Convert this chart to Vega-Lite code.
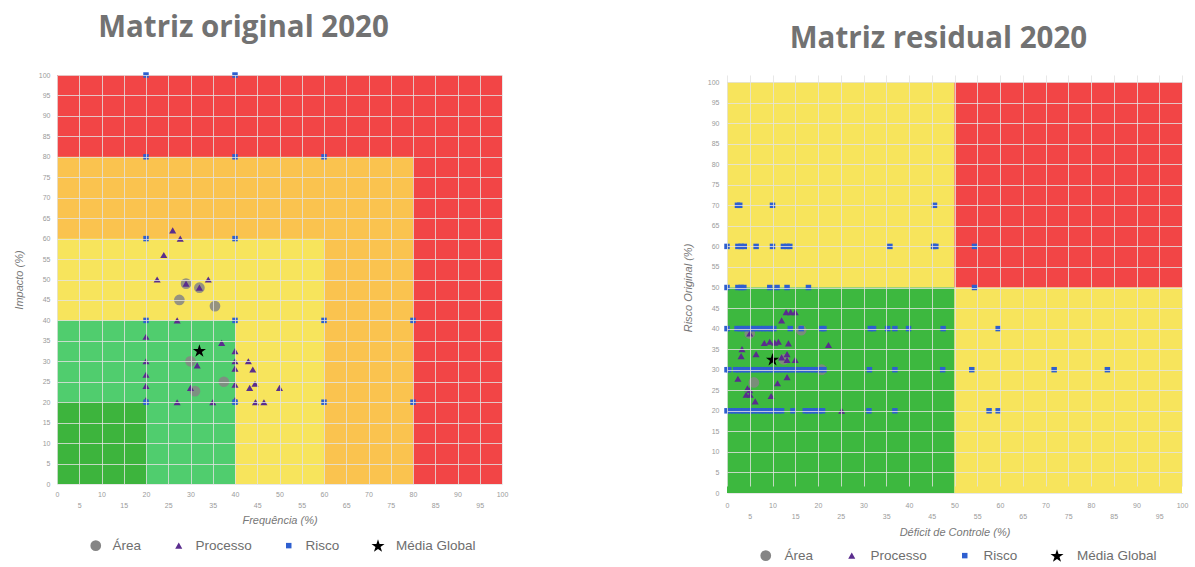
{
  "$schema": "https://vega.github.io/schema/vega-lite/v6.json",
  "padding": {"left": 13, "top": 12, "right": 5, "bottom": 0},
  "background": "#ffffff",
  "config": {
    "view": {"stroke": null},
    "axis": {
      "labelFont": "Liberation Sans", "labelFontSize": 7, "labelColor": "#9a9a9a",
      "titleFont": "Liberation Sans", "titleFontSize": 11, "titleFontStyle": "italic",
      "titleFontWeight": "normal", "titleColor": "#777777",
      "ticks": false, "domain": false, "gridColor": "#e2e2e2", "gridOpacity": 0.8,
      "gridWidth": 1, "labelOverlap": false, "labelFlush": false
    },
    "legend": {"labelFont": "Liberation Sans", "labelFontSize": 13.5, "labelColor": "#6e6e6e"}
  },
  "datasets": {
    "zonasL": [
      {"zona": "Crítico", "x": 0, "x2": 100, "y": 0, "y2": 100},
      {"zona": "Alto", "x": 0, "x2": 80, "y": 0, "y2": 80},
      {"zona": "Médio", "x": 0, "x2": 60, "y": 0, "y2": 60},
      {"zona": "Baixo", "x": 0, "x2": 40, "y": 0, "y2": 40},
      {"zona": "Muito baixo", "x": 0, "x2": 20, "y": 0, "y2": 20}
    ],
    "zonasR": [
      {"zona": "Médio A", "x": 0, "x2": 50, "y": 50, "y2": 100},
      {"zona": "Alto", "x": 50, "x2": 100, "y": 50, "y2": 100},
      {"zona": "Baixo", "x": 0, "x2": 50, "y": 0, "y2": 50},
      {"zona": "Médio B", "x": 50, "x2": 100, "y": 0, "y2": 50}
    ],
    "pontosL": [
      {"tipo": "Área", "x": 29, "y": 49}, {"tipo": "Área", "x": 32, "y": 48}, {"tipo": "Área", "x": 27.5, "y": 45},
      {"tipo": "Área", "x": 35.5, "y": 43.5}, {"tipo": "Área", "x": 30, "y": 30}, {"tipo": "Área", "x": 37.5, "y": 25},
      {"tipo": "Área", "x": 31, "y": 22.7},
      {"tipo": "Processo", "x": 26, "y": 62}, {"tipo": "Processo", "x": 27.7, "y": 60}, {"tipo": "Processo", "x": 24, "y": 56},
      {"tipo": "Processo", "x": 22.5, "y": 50}, {"tipo": "Processo", "x": 34, "y": 50}, {"tipo": "Processo", "x": 29, "y": 49},
      {"tipo": "Processo", "x": 32, "y": 48}, {"tipo": "Processo", "x": 27, "y": 40}, {"tipo": "Processo", "x": 20, "y": 36},
      {"tipo": "Processo", "x": 37, "y": 34.5}, {"tipo": "Processo", "x": 40, "y": 32.5}, {"tipo": "Processo", "x": 20, "y": 30},
      {"tipo": "Processo", "x": 40, "y": 30}, {"tipo": "Processo", "x": 43, "y": 30}, {"tipo": "Processo", "x": 31.5, "y": 29},
      {"tipo": "Processo", "x": 40, "y": 28.2}, {"tipo": "Processo", "x": 44, "y": 28}, {"tipo": "Processo", "x": 20, "y": 26.7},
      {"tipo": "Processo", "x": 20, "y": 24}, {"tipo": "Processo", "x": 40, "y": 24.3}, {"tipo": "Processo", "x": 44.5, "y": 24.5},
      {"tipo": "Processo", "x": 43.3, "y": 23.5}, {"tipo": "Processo", "x": 50, "y": 23.5}, {"tipo": "Processo", "x": 30, "y": 23.5},
      {"tipo": "Processo", "x": 27, "y": 20}, {"tipo": "Processo", "x": 35, "y": 20}, {"tipo": "Processo", "x": 44.6, "y": 20},
      {"tipo": "Processo", "x": 46.5, "y": 20}, {"tipo": "Processo", "x": 20, "y": 20.5}, {"tipo": "Processo", "x": 40, "y": 20.5},
      {"tipo": "Risco", "x": 20, "y": 100}, {"tipo": "Risco", "x": 40, "y": 100}, {"tipo": "Risco", "x": 20, "y": 80},
      {"tipo": "Risco", "x": 40, "y": 80}, {"tipo": "Risco", "x": 60, "y": 80}, {"tipo": "Risco", "x": 20, "y": 60},
      {"tipo": "Risco", "x": 40, "y": 60}, {"tipo": "Risco", "x": 20, "y": 40}, {"tipo": "Risco", "x": 40, "y": 40},
      {"tipo": "Risco", "x": 60, "y": 40}, {"tipo": "Risco", "x": 80, "y": 40}, {"tipo": "Risco", "x": 20, "y": 20},
      {"tipo": "Risco", "x": 40, "y": 20}, {"tipo": "Risco", "x": 60, "y": 20}, {"tipo": "Risco", "x": 80, "y": 20},
      {"tipo": "Média Global", "x": 32, "y": 32.5}
    ],
    "pontosR": [
      {"tipo": "Área", "x": 5, "y": 38.8}, {"tipo": "Área", "x": 16.3, "y": 39.6}, {"tipo": "Área", "x": 5.9, "y": 26.9},
      {"tipo": "Área", "x": 20.8, "y": 30}, {"tipo": "Área", "x": 12.5, "y": 32.5},
      {"tipo": "Processo", "x": 13, "y": 44}, {"tipo": "Processo", "x": 14, "y": 44}, {"tipo": "Processo", "x": 15, "y": 44},
      {"tipo": "Processo", "x": 12, "y": 42}, {"tipo": "Processo", "x": 5, "y": 38.8}, {"tipo": "Processo", "x": 8.2, "y": 36.5},
      {"tipo": "Processo", "x": 9.4, "y": 36.8}, {"tipo": "Processo", "x": 10.5, "y": 36.6}, {"tipo": "Processo", "x": 11.3, "y": 36.8},
      {"tipo": "Processo", "x": 13.5, "y": 36.4}, {"tipo": "Processo", "x": 3.3, "y": 35}, {"tipo": "Processo", "x": 22.3, "y": 36},
      {"tipo": "Processo", "x": 3.1, "y": 33.3}, {"tipo": "Processo", "x": 6.4, "y": 33.8}, {"tipo": "Processo", "x": 13.2, "y": 33.8},
      {"tipo": "Processo", "x": 15, "y": 32.4}, {"tipo": "Processo", "x": 13.2, "y": 32.4}, {"tipo": "Processo", "x": 12, "y": 33},
      {"tipo": "Processo", "x": 2.4, "y": 27.8}, {"tipo": "Processo", "x": 13.2, "y": 28.2}, {"tipo": "Processo", "x": 11.1, "y": 26.7},
      {"tipo": "Processo", "x": 4.5, "y": 25.5}, {"tipo": "Processo", "x": 4.2, "y": 23.9}, {"tipo": "Processo", "x": 5.1, "y": 23.9},
      {"tipo": "Processo", "x": 6.2, "y": 22.3}, {"tipo": "Processo", "x": 9.7, "y": 23.6}, {"tipo": "Processo", "x": 25.2, "y": 20},
      {"tipo": "Processo", "x": 5, "y": 25},
      {"tipo": "Risco", "x": 2.3, "y": 70}, {"tipo": "Risco", "x": 2.8, "y": 70}, {"tipo": "Risco", "x": 10, "y": 70}, {"tipo": "Risco", "x": 45.6, "y": 70},
      {"tipo": "Risco", "x": 0, "y": 60}, {"tipo": "Risco", "x": 2.4, "y": 60}, {"tipo": "Risco", "x": 3.1, "y": 60}, {"tipo": "Risco", "x": 3.8, "y": 60},
      {"tipo": "Risco", "x": 6.4, "y": 60}, {"tipo": "Risco", "x": 10, "y": 60}, {"tipo": "Risco", "x": 12.4, "y": 60}, {"tipo": "Risco", "x": 13.2, "y": 60},
      {"tipo": "Risco", "x": 13.8, "y": 60}, {"tipo": "Risco", "x": 35.8, "y": 60}, {"tipo": "Risco", "x": 45.4, "y": 60}, {"tipo": "Risco", "x": 45.9, "y": 60},
      {"tipo": "Risco", "x": 54.4, "y": 60},
      {"tipo": "Risco", "x": 0, "y": 50}, {"tipo": "Risco", "x": 2.4, "y": 50}, {"tipo": "Risco", "x": 3.1, "y": 50}, {"tipo": "Risco", "x": 3.7, "y": 50},
      {"tipo": "Risco", "x": 9.4, "y": 50}, {"tipo": "Risco", "x": 11, "y": 50}, {"tipo": "Risco", "x": 13.2, "y": 50}, {"tipo": "Risco", "x": 17.9, "y": 50},
      {"tipo": "Risco", "x": 54.4, "y": 50},
      {"tipo": "Risco", "x": 0, "y": 40}, {"tipo": "Risco", "x": 2.2, "y": 40}, {"tipo": "Risco", "x": 2.9, "y": 40}, {"tipo": "Risco", "x": 3.6, "y": 40},
      {"tipo": "Risco", "x": 4.3, "y": 40}, {"tipo": "Risco", "x": 5.1, "y": 40}, {"tipo": "Risco", "x": 5.8, "y": 40}, {"tipo": "Risco", "x": 6.6, "y": 40},
      {"tipo": "Risco", "x": 7.3, "y": 40}, {"tipo": "Risco", "x": 8.1, "y": 40}, {"tipo": "Risco", "x": 8.8, "y": 40}, {"tipo": "Risco", "x": 9.6, "y": 40},
      {"tipo": "Risco", "x": 10.3, "y": 40}, {"tipo": "Risco", "x": 13.9, "y": 40}, {"tipo": "Risco", "x": 16.3, "y": 40}, {"tipo": "Risco", "x": 20.8, "y": 40},
      {"tipo": "Risco", "x": 21.3, "y": 40}, {"tipo": "Risco", "x": 31.5, "y": 40}, {"tipo": "Risco", "x": 32.2, "y": 40}, {"tipo": "Risco", "x": 35.3, "y": 40},
      {"tipo": "Risco", "x": 36.9, "y": 40}, {"tipo": "Risco", "x": 39.9, "y": 40}, {"tipo": "Risco", "x": 47.5, "y": 40}, {"tipo": "Risco", "x": 59.6, "y": 40},
      {"tipo": "Risco", "x": 0, "y": 30}, {"tipo": "Risco", "x": 0.4, "y": 30}, {"tipo": "Risco", "x": 1.9, "y": 30}, {"tipo": "Risco", "x": 2.6, "y": 30},
      {"tipo": "Risco", "x": 3.4, "y": 30}, {"tipo": "Risco", "x": 4.1, "y": 30}, {"tipo": "Risco", "x": 4.9, "y": 30}, {"tipo": "Risco", "x": 5.6, "y": 30},
      {"tipo": "Risco", "x": 6.3, "y": 30}, {"tipo": "Risco", "x": 7.1, "y": 30}, {"tipo": "Risco", "x": 7.8, "y": 30}, {"tipo": "Risco", "x": 8.6, "y": 30},
      {"tipo": "Risco", "x": 9.3, "y": 30}, {"tipo": "Risco", "x": 10.1, "y": 30}, {"tipo": "Risco", "x": 10.8, "y": 30}, {"tipo": "Risco", "x": 11.6, "y": 30},
      {"tipo": "Risco", "x": 12.3, "y": 30}, {"tipo": "Risco", "x": 13.1, "y": 30}, {"tipo": "Risco", "x": 13.8, "y": 30}, {"tipo": "Risco", "x": 14.6, "y": 30},
      {"tipo": "Risco", "x": 15.3, "y": 30}, {"tipo": "Risco", "x": 16.1, "y": 30}, {"tipo": "Risco", "x": 16.8, "y": 30}, {"tipo": "Risco", "x": 17.6, "y": 30},
      {"tipo": "Risco", "x": 18.3, "y": 30}, {"tipo": "Risco", "x": 19.1, "y": 30}, {"tipo": "Risco", "x": 19.8, "y": 30}, {"tipo": "Risco", "x": 20.6, "y": 30},
      {"tipo": "Risco", "x": 21.3, "y": 30}, {"tipo": "Risco", "x": 31.3, "y": 30}, {"tipo": "Risco", "x": 36.9, "y": 30}, {"tipo": "Risco", "x": 47.4, "y": 30},
      {"tipo": "Risco", "x": 53.8, "y": 30}, {"tipo": "Risco", "x": 71.9, "y": 30}, {"tipo": "Risco", "x": 83.6, "y": 30},
      {"tipo": "Risco", "x": 0, "y": 20}, {"tipo": "Risco", "x": 0.7, "y": 20}, {"tipo": "Risco", "x": 1.5, "y": 20}, {"tipo": "Risco", "x": 2.2, "y": 20},
      {"tipo": "Risco", "x": 3, "y": 20}, {"tipo": "Risco", "x": 3.7, "y": 20}, {"tipo": "Risco", "x": 4.5, "y": 20}, {"tipo": "Risco", "x": 5.2, "y": 20},
      {"tipo": "Risco", "x": 6, "y": 20}, {"tipo": "Risco", "x": 6.7, "y": 20}, {"tipo": "Risco", "x": 7.5, "y": 20}, {"tipo": "Risco", "x": 8.2, "y": 20},
      {"tipo": "Risco", "x": 9, "y": 20}, {"tipo": "Risco", "x": 9.7, "y": 20}, {"tipo": "Risco", "x": 10.5, "y": 20}, {"tipo": "Risco", "x": 11.2, "y": 20},
      {"tipo": "Risco", "x": 12, "y": 20}, {"tipo": "Risco", "x": 14.5, "y": 20}, {"tipo": "Risco", "x": 17.2, "y": 20}, {"tipo": "Risco", "x": 17.9, "y": 20},
      {"tipo": "Risco", "x": 18.7, "y": 20}, {"tipo": "Risco", "x": 19.5, "y": 20}, {"tipo": "Risco", "x": 20.3, "y": 20}, {"tipo": "Risco", "x": 21, "y": 20},
      {"tipo": "Risco", "x": 31.2, "y": 20}, {"tipo": "Risco", "x": 36.9, "y": 20}, {"tipo": "Risco", "x": 57.6, "y": 20}, {"tipo": "Risco", "x": 59.6, "y": 20},
      {"tipo": "Média Global", "x": 10, "y": 32.4}
    ]
  },
  "spacing": 174,
  "resolve": {
    "scale": {"fill": "independent", "color": "independent", "shape": "independent", "size": "independent"},
    "legend": {"color": "independent", "shape": "independent", "size": "independent"}
  },
  "hconcat": [
    {
      "width": 445,
      "height": 409,
      "title": {"text": "Matriz original 2020", "font": "Open Sans", "fontSize": 29.5, "fontWeight": "bold", "color": "#727272", "anchor": "middle", "baseline": "alphabetic", "offset": 5, "dx": -36},
      "encoding": {
        "x": {"field": "x", "type": "quantitative", "scale": {"domain": [0, 100], "nice": false},
              "axis": {"title": "Frequência (%)", "values": [0,5,10,15,20,25,30,35,40,45,50,55,60,65,70,75,80,85,90,95,100], "grid": true, "zindex": 1,
                       "labelExpr": "datum.value % 10 == 0 ? datum.label : ['', datum.label]", "labelLineHeight": 11, "labelPadding": 6, "titlePadding": 6}},
        "y": {"field": "y", "type": "quantitative", "scale": {"domain": [0, 100], "nice": false},
              "axis": {"title": "Impacto (%)", "values": [0,5,10,15,20,25,30,35,40,45,50,55,60,65,70,75,80,85,90,95,100], "grid": true, "zindex": 1, "labelPadding": 7, "titlePadding": 14}}
      },
      "layer": [
        {
          "data": {"name": "zonasL"},
          "mark": {"type": "rect"},
          "encoding": {
            "x2": {"field": "x2"},
            "y2": {"field": "y2"},
            "fill": {"field": "zona", "type": "nominal", "legend": null,
                     "scale": {"domain": ["Crítico", "Alto", "Médio", "Baixo", "Muito baixo"], "range": ["#f24546", "#fac34f", "#f7e45c", "#50cd6e", "#3db43d"]}}
          }
        },
        {
          "data": {"name": "pontosL"},
          "mark": {"type": "point", "filled": true},
          "encoding": {
            "color": {"field": "tipo", "type": "nominal",
                      "scale": {"domain": ["Área", "Processo", "Risco", "Média Global"], "range": ["#858585", "#5a2d8e", "#2e5fd0", "#000000"]},
                      "legend": {"title": null, "orient": "none", "direction": "horizontal", "legendX": 32, "legendY": 463, "columnPadding": 30, "labelOffset": 10}},
            "shape": {"field": "tipo", "type": "nominal",
                      "scale": {"domain": ["Área", "Processo", "Risco", "Média Global"], "range": ["circle", "triangle-up", "square", "M0,-1L0.2245,-0.309L0.951,-0.309L0.363,0.118L0.588,0.809L0,0.382L-0.588,0.809L-0.363,0.118L-0.951,-0.309L-0.2245,-0.309Z"]},
                      "legend": {"title": null, "orient": "none", "direction": "horizontal", "legendX": 32, "legendY": 463, "columnPadding": 30, "labelOffset": 10}},
            "size": {"field": "tipo", "type": "nominal",
                     "scale": {"type": "ordinal", "domain": ["Área", "Processo", "Risco", "Média Global"], "range": [115, 50, 30, 190]},
                     "legend": {"title": null, "orient": "none", "direction": "horizontal", "legendX": 32, "legendY": 463, "columnPadding": 30, "labelOffset": 10}},
            "opacity": {"condition": {"test": "datum.tipo == 'Área'", "value": 0.85}, "value": 1}
          }
        }
      ]
    },
    {
      "width": 455,
      "height": 418,
      "title": {"text": "Matriz residual 2020", "font": "Open Sans", "fontSize": 29.5, "fontWeight": "bold", "color": "#727272", "anchor": "middle", "baseline": "alphabetic", "offset": -2, "dx": -16},
      "encoding": {
        "x": {"field": "x", "type": "quantitative", "scale": {"domain": [0, 100], "nice": false},
              "axis": {"title": "Déficit de Controle (%)", "values": [0,5,10,15,20,25,30,35,40,45,50,55,60,65,70,75,80,85,90,95,100], "grid": true, "zindex": 1,
                       "labelExpr": "datum.value % 10 == 0 ? datum.label : ['', datum.label]", "labelLineHeight": 11, "labelPadding": 8, "titlePadding": 7}},
        "y": {"field": "y", "type": "quantitative", "scale": {"domain": [0, 100], "nice": false, "range": [418, 7]},
              "axis": {"title": "Risco Original (%)", "values": [0,5,10,15,20,25,30,35,40,45,50,55,60,65,70,75,80,85,90,95,100], "grid": true, "zindex": 1, "labelPadding": 8, "titlePadding": 14}}
      },
      "layer": [
        {
          "data": {"name": "zonasR"},
          "mark": {"type": "rect"},
          "encoding": {
            "x2": {"field": "x2"},
            "y2": {"field": "y2"},
            "fill": {"field": "zona", "type": "nominal", "legend": null,
                     "scale": {"domain": ["Médio A", "Alto", "Baixo", "Médio B"], "range": ["#f7e45c", "#f24546", "#3db83f", "#f7e45c"]}}
          }
        },
        {
          "data": {"name": "pontosR"},
          "mark": {"type": "point", "filled": true},
          "encoding": {
            "color": {"field": "tipo", "type": "nominal",
                      "scale": {"domain": ["Área", "Processo", "Risco", "Média Global"], "range": ["#858585", "#5a2d8e", "#2e5fd0", "#000000"]},
                      "legend": {"title": null, "orient": "none", "direction": "horizontal", "legendX": 32, "legendY": 473, "columnPadding": 31, "labelOffset": 12}},
            "shape": {"field": "tipo", "type": "nominal",
                      "scale": {"domain": ["Área", "Processo", "Risco", "Média Global"], "range": ["circle", "triangle-up", "square", "M0,-1L0.2245,-0.309L0.951,-0.309L0.363,0.118L0.588,0.809L0,0.382L-0.588,0.809L-0.363,0.118L-0.951,-0.309L-0.2245,-0.309Z"]},
                      "legend": {"title": null, "orient": "none", "direction": "horizontal", "legendX": 32, "legendY": 473, "columnPadding": 31, "labelOffset": 12}},
            "size": {"field": "tipo", "type": "nominal",
                     "scale": {"type": "ordinal", "domain": ["Área", "Processo", "Risco", "Média Global"], "range": [115, 50, 30, 190]},
                     "legend": {"title": null, "orient": "none", "direction": "horizontal", "legendX": 32, "legendY": 473, "columnPadding": 31, "labelOffset": 12}},
            "opacity": {"condition": {"test": "datum.tipo == 'Área'", "value": 0.85}, "value": 1}
          }
        }
      ]
    }
  ]
}
